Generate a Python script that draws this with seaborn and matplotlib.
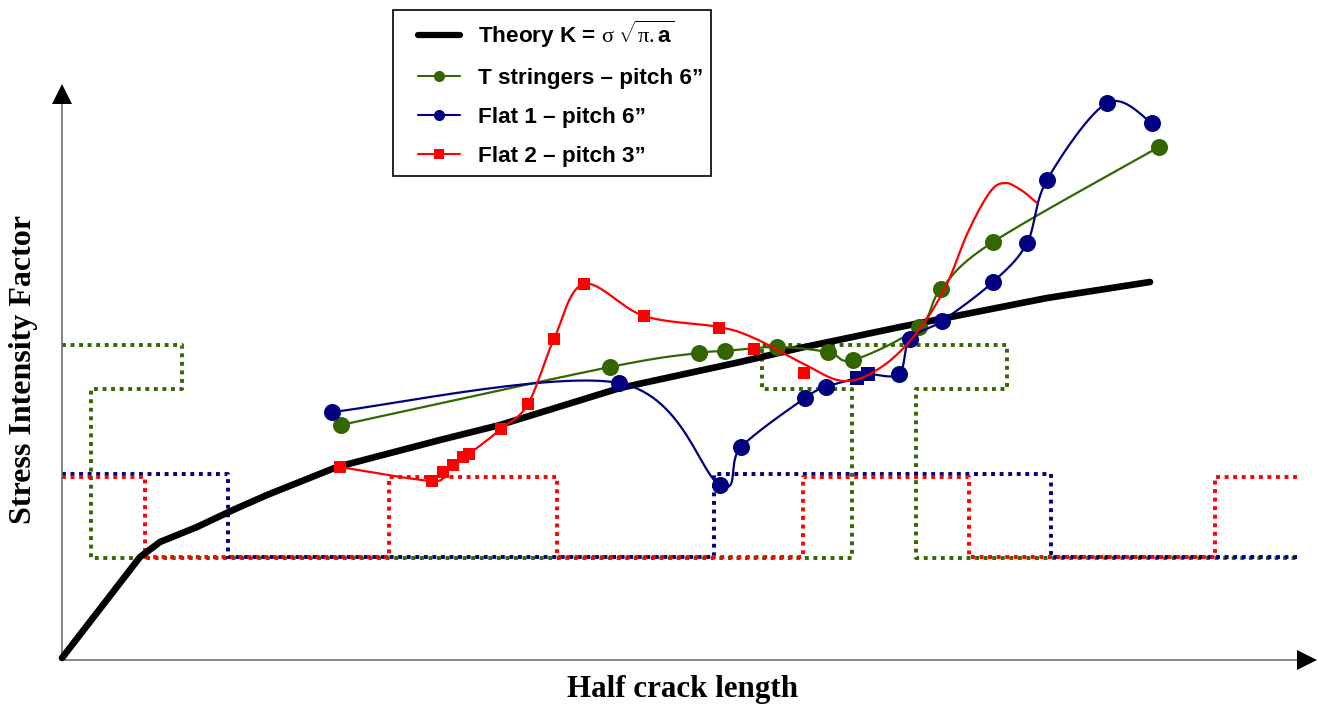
import numpy as np
import pandas as pd
import matplotlib
matplotlib.use("Agg")
import matplotlib.pyplot as plt
from matplotlib.lines import Line2D
from matplotlib.patches import Rectangle
import seaborn as sns

# ---------------- data ----------------
# x = half crack length (arbitrary units), y = stress intensity factor (arbitrary units)
theory_x = [0, 78, 98, 135, 171, 205, 275, 378, 438, 558, 678, 738, 838, 985, 1088]
theory_y = [2, 103, 118, 133, 150, 165, 193, 220, 235, 272, 298, 312, 333, 362, 378]

tstr_x = [279, 548, 637, 663, 715, 766, 791, 857, 879, 931, 1097]
tstr_y = [235, 293, 307, 309, 313, 308, 300, 333, 371, 418, 513]

flat1_x = [270, 557, 658, 679, 743, 764, 795, 806, 837, 848, 880, 931, 965, 985, 1045, 1090]
flat1_y = [248, 277, 175, 213, 262, 273, 282, 286, 286, 321, 339, 378, 417, 480, 557, 537]
flat1_marker = ['o', 'o', 'o', 'o', 'o', 'o', 's', 's', 'o', 'o', 'o', 'o', 'o', 'o', 'o', 'o']

flat2_line_x = [278, 370, 381, 391, 401, 407, 439, 466, 492, 522, 582, 657, 692, 738,
                781, 818, 853, 883, 906, 928, 943, 959, 975]
flat2_line_y = [193, 179, 188, 195, 203, 206, 231, 256, 321, 376, 344, 333, 322, 298,
                279, 292, 325, 372, 428, 468, 477, 470, 457]
flat2_mark_x = [278, 370, 381, 391, 401, 407, 439, 466, 492, 522, 582, 657, 692, 742]
flat2_mark_y = [193, 179, 188, 195, 203, 206, 231, 256, 321, 376, 344, 332, 311, 287]

# stiffener layout outlines (dotted)
green_step_x = [0, 120, 120, 29, 29, 790, 790, 700, 700, 945, 945, 854, 854, 1235]
green_step_y = [315, 315, 271, 271, 102, 102, 271, 271, 315, 315, 271, 271, 102, 102]
blue_step_x = [0, 166, 166, 652, 652, 989, 989, 1235]
blue_step_y = [186, 186, 103, 103, 186, 186, 103, 103]
red_step_x = [0, 83, 83, 327, 327, 495, 495, 741, 741, 907, 907, 1153, 1153, 1235]
red_step_y = [183, 183, 103, 103, 183, 183, 103, 103, 183, 183, 103, 103, 183, 183]

labels = ["Theory K = $\\mathrm{\\sigma}\\ \\sqrt{\\mathrm{\\pi}.\\mathbf{a}}$",
          "T stringers \u2013 pitch 6\u201d",
          "Flat 1 \u2013 pitch 6\u201d",
          "Flat 2 \u2013 pitch 3\u201d"]
xlabel = "Half crack length"
ylabel = "Stress Intensity Factor"

GREEN = "#336600"
NAVY = "#000080"
RED = "#ff0000"


def smooth(xs, ys, n=30):
    """Excel-style smoothed line (uniform Catmull-Rom through the given nodes)."""
    p = np.column_stack([xs, ys]).astype(float)
    p = np.vstack([p[0], p, p[-1]])
    out = []
    t = np.linspace(0, 1, n, endpoint=False)[:, None]
    for i in range(1, len(p) - 2):
        p0, p1, p2, p3 = p[i - 1], p[i], p[i + 1], p[i + 2]
        seg = 0.5 * ((2 * p1) + (-p0 + p2) * t + (2 * p0 - 5 * p1 + 4 * p2 - p3) * t ** 2
                     + (-p0 + 3 * p1 - 3 * p2 + p3) * t ** 3)
        out.append(seg)
    out.append(p[-2][None, :])
    out = np.vstack(out)
    return out[:, 0], out[:, 1]


sns.set_theme(style="white")
plt.rcParams['font.family'] = ['Liberation Sans', 'DejaVu Sans']
plt.rcParams['text.color'] = 'black'
plt.rcParams['mathtext.fontset'] = 'custom'
plt.rcParams['mathtext.rm'] = 'Liberation Serif'
plt.rcParams['mathtext.it'] = 'Liberation Serif:italic'
plt.rcParams['mathtext.bf'] = 'Liberation Sans:bold'

fig = plt.figure(figsize=(13.18, 7.08), dpi=100)
ax = fig.add_axes([0, 0, 1, 1])
ax.set_xlim(-62, 1256)
ax.set_ylim(-48, 660)
ax.axis('off')

dot = (0, (1, 1.2))
for sx, sy, c in [(green_step_x, green_step_y, GREEN),
                  (blue_step_x, blue_step_y, NAVY),
                  (red_step_x, red_step_y, RED)]:
    sns.lineplot(x=sx, y=sy, sort=False, estimator=None, ax=ax, color=c,
                 linewidth=2.8, linestyle=dot, dash_capstyle='butt', zorder=1)

# axes with arrows
ax.plot([0, 0], [0, 560], color="#707070", lw=1.2, zorder=2, solid_capstyle='butt')
ax.plot([0, 1238], [0, 0], color="#707070", lw=1.2, zorder=2, solid_capstyle='butt')
ax.plot([0], [566], marker='^', ms=14.5, color='black', mew=0, zorder=3)
ax.plot([1245], [0], marker='>', ms=14, color='black', mew=0, zorder=3)

# theory
sns.lineplot(x=theory_x, y=theory_y, sort=False, estimator=None, ax=ax,
             color='black', linewidth=4.8, zorder=4)

# T stringers
gx, gy = smooth(tstr_x, tstr_y)
ax.plot(gx, gy, color=GREEN, lw=1.6, zorder=5)
sns.scatterplot(x=tstr_x, y=tstr_y, ax=ax, color=GREEN, marker='o', s=150,
                linewidth=0, zorder=6)

# Flat 1
bx, by = smooth(flat1_x, flat1_y)
ax.plot(bx, by, color=NAVY, lw=1.6, zorder=7)
fdf = pd.DataFrame({"x": flat1_x, "y": flat1_y, "m": flat1_marker})
sns.scatterplot(data=fdf[fdf.m == 'o'], x="x", y="y", ax=ax, color=NAVY, marker='o',
                s=150, linewidth=0, zorder=8)
sns.scatterplot(data=fdf[fdf.m == 's'], x="x", y="y", ax=ax, color=NAVY, marker='s',
                s=110, linewidth=0, zorder=8)

# Flat 2
rx, ry = smooth(flat2_line_x, flat2_line_y)
ax.plot(rx, ry, color=RED, lw=1.6, zorder=9)
sns.scatterplot(x=flat2_mark_x, y=flat2_mark_y, ax=ax, color=RED, marker='s', s=85,
                linewidth=0, zorder=10)

ax.set_xlim(-62, 1256)
ax.set_ylim(-48, 660)

# legend: frame drawn as a rectangle, entries by matplotlib legend
W, H = 1318.0, 708.0
ax.add_patch(Rectangle((393 / W, 1 - 176 / H), (711 - 393) / W, (176 - 10) / H,
                       transform=fig.transFigure, fill=True, facecolor='white',
                       edgecolor='black', linewidth=1.2, zorder=15, clip_on=False))
handles = [Line2D([], [], color='black', lw=4.5),
           Line2D([], [], color=GREEN, lw=1.5, marker='o', ms=8, mew=0),
           Line2D([], [], color=NAVY, lw=1.5, marker='o', ms=8, mew=0),
           Line2D([], [], color=RED, lw=1.5, marker='s', ms=7, mew=0)]
leg = ax.legend(handles, labels, loc='upper left',
                bbox_to_anchor=(418 / W, 1 - 19 / H), bbox_transform=fig.transFigure,
                borderaxespad=0,
                prop={'family': 'Liberation Sans', 'weight': 'bold', 'size': 16.2},
                frameon=False, handlelength=1.85, handletextpad=0.8,
                labelspacing=0.8, borderpad=0)
leg.set_zorder(20)

ax.text(621, -30, xlabel, ha='center', va='center', fontsize=22.3, fontweight='bold',
        family='Liberation Serif', color='black')
ax.text(-39, 290, ylabel, ha='center', va='center', rotation=90, fontsize=23,
        fontweight='bold', family='Liberation Serif', color='black')

fig.savefig('out.png', dpi=100)
